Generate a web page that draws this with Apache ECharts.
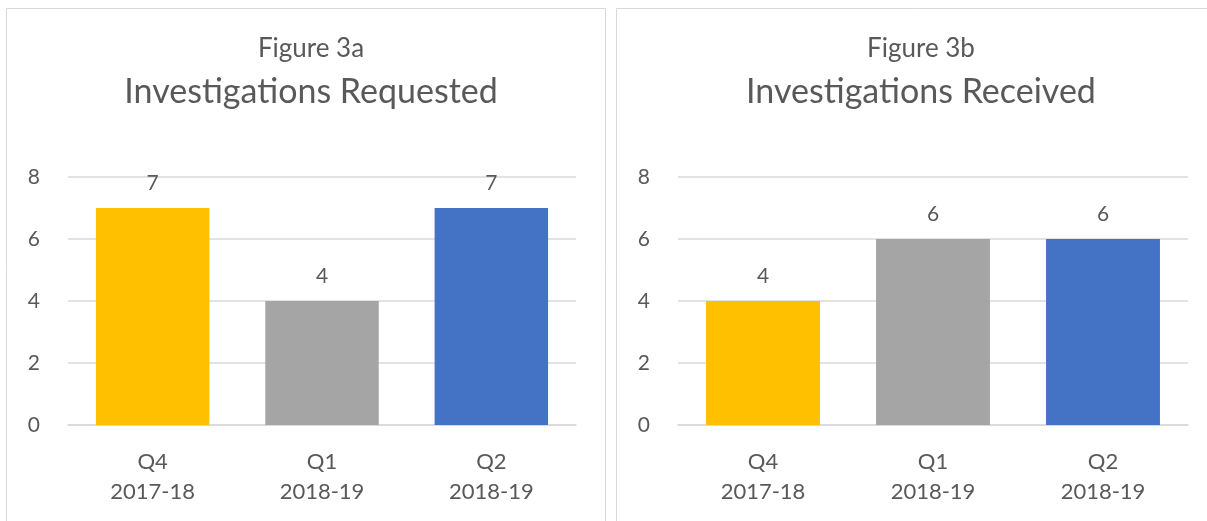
<!DOCTYPE html>
<html><head><meta charset="utf-8">
<script src="https://cdn.jsdelivr.net/npm/echarts@6/dist/echarts.min.js"></script>
<style>html,body{margin:0;padding:0;background:#fff}#c{width:1207px;height:521px}</style>
</head><body><div id="c"></div>
<script>
const categories = ['Q4\n2017-18', 'Q1\n2018-19', 'Q2\n2018-19'];
const requested = [7, 4, 7];
const received = [4, 6, 6];
const barColors = ['#FFC000', '#A5A5A5', '#4472C4'];
const yTicks = { min: 0, max: 8, interval: 2 };
const titlesA = ['Figure 3a', 'Investigations Requested'];
const titlesB = ['Figure 3b', 'Investigations Received'];

const FONT = 'Lato, "Open Sans", sans-serif';
const TXT = '#595959';
const chart = echarts.init(document.getElementById('c'), null, { renderer: 'canvas' });

function xAxis(gi) {
  return {
    type: 'category', gridIndex: gi, data: categories,
    axisLine: { show: true, lineStyle: { color: '#d9d9d9', width: 1.5 } },
    axisTick: { show: false },
    axisLabel: { color: TXT, fontFamily: FONT, fontSize: 22, lineHeight: 30, margin: 22 }
  };
}
function yAxis(gi) {
  return {
    type: 'value', gridIndex: gi, min: yTicks.min, max: yTicks.max, interval: yTicks.interval,
    axisLine: { show: false }, axisTick: { show: false },
    splitLine: { lineStyle: { color: '#d9d9d9', width: 1.5 } },
    axisLabel: { color: TXT, fontFamily: FONT, fontSize: 21, margin: 28 }
  };
}
function series(gi, vals) {
  return {
    type: 'bar', xAxisIndex: gi, yAxisIndex: gi, barWidth: '67%',
    data: vals.map((v, i) => ({ value: v, itemStyle: { color: barColors[i] } })),
    label: { show: true, position: 'top', distance: 14, color: TXT, fontFamily: FONT, fontSize: 21 }
  };
}
function titles(t, cx) {
  return [
    { text: t[0], left: cx, top: 31, textAlign: 'center',
      textStyle: { color: TXT, fontFamily: FONT, fontSize: 26, fontWeight: 'normal' } },
    { text: t[1], left: cx, top: 70, textAlign: 'center',
      textStyle: { color: TXT, fontFamily: FONT, fontSize: 34, fontWeight: 'normal' } }
  ];
}

chart.setOption({
  animation: false,
  backgroundColor: '#fff',
  title: [...titles(titlesA, 306), ...titles(titlesB, 916)],
  grid: [
    { left: 68, right: 631, top: 177, bottom: 96 },
    { left: 678, right: 19, top: 177, bottom: 96 }
  ],
  xAxis: [xAxis(0), xAxis(1)],
  yAxis: [yAxis(0), yAxis(1)],
  series: [series(0, requested), series(1, received)],
  graphic: [
    { type: 'rect', shape: { x: 6.5, y: 8.5, width: 599, height: 530 },
      style: { fill: 'none', stroke: '#d9d9d9', lineWidth: 1 }, silent: true },
    { type: 'rect', shape: { x: 616.5, y: 8.5, width: 600, height: 530 },
      style: { fill: 'none', stroke: '#d9d9d9', lineWidth: 1 }, silent: true }
  ]
});
</script></body></html>
